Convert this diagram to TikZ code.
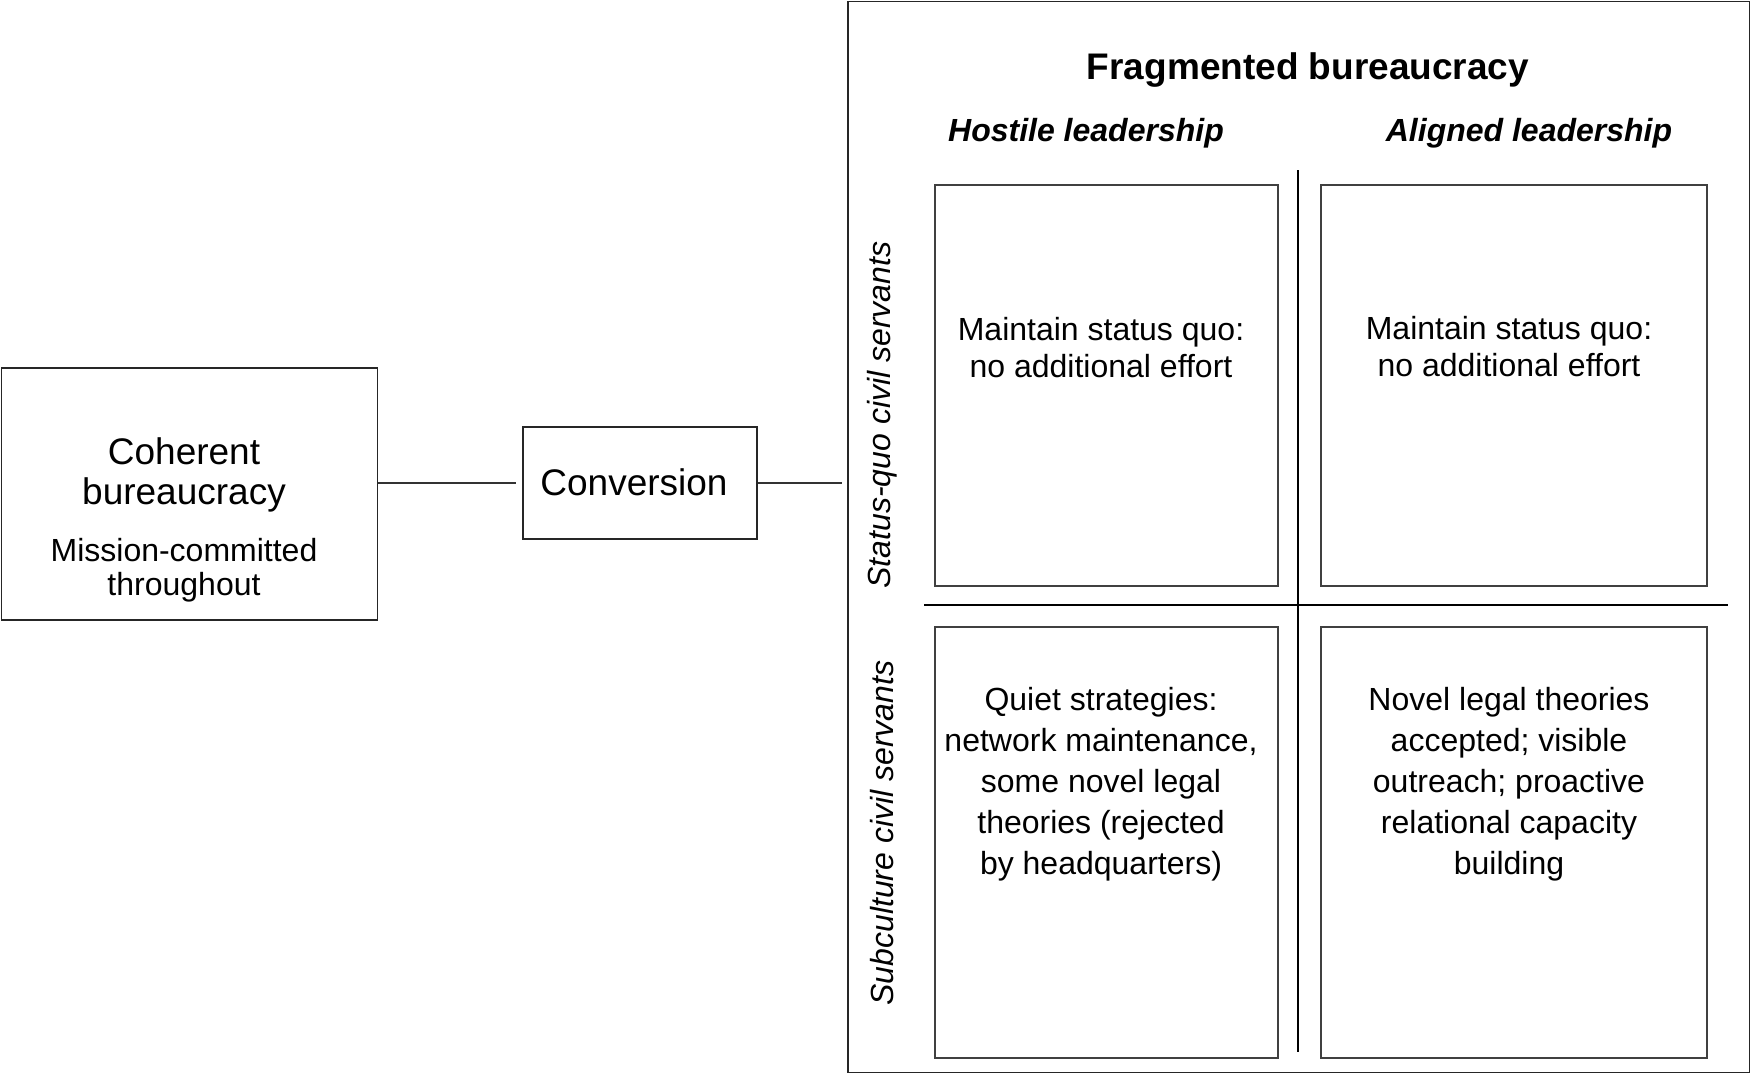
\documentclass[tikz,border=0pt]{standalone}
\usepackage{fontspec}
\setmainfont{Liberation Sans}
\begin{document}
\begin{tikzpicture}[x=1pt,y=-1pt,
  box/.style={draw=black!85, line width=1.6pt, inner sep=0pt, anchor=north west},
  cellbox/.style={draw=black!75, line width=1.8pt, inner sep=0pt, anchor=north west},
  link/.style={draw=black!80, line width=1.4pt},
  divider/.style={draw=black, line width=1.5pt},
  bigtext/.style={font=\fontsize{37}{40}\selectfont, align=center, inner sep=0pt},
  smalltext/.style={font=\fontsize{32}{34}\selectfont, align=center, inner sep=0pt},
  celltop/.style={font=\fontsize{32}{37}\selectfont, align=center, inner sep=0pt},
  cellbot/.style={font=\fontsize{32}{41}\selectfont, align=center, inner sep=0pt},
  head/.style={font=\fontsize{32}{34}\selectfont\bfseries\itshape, anchor=base, inner sep=0pt},
  rowlab/.style={font=\fontsize{32}{34}\selectfont\itshape, rotate=90, inner sep=0pt}
]
\fill[white] (0,0) rectangle (1750,1073);
\useasboundingbox (0,0) rectangle (1750,1073);

% left boxes
\node[box, minimum width=376pt, minimum height=252pt] (left) at (0.8,367) {};
\node[box, minimum width=234pt, minimum height=112pt] (conv) at (522,426) {};
\node[box, minimum width=902pt, minimum height=1071.2pt] (big) at (847,0.8) {};

\node[bigtext] (cohT) at (184,474.5) {Coherent\\bureaucracy};
\node[smalltext] (cohS) at (184,570) {Mission-committed\\throughout};
\node[bigtext] (convT) at (634,482) {Conversion};

% connectors
\coordinate (convin) at ([xshift=-6pt]conv.west);
\coordinate (bigin) at ([xshift=-5pt]big.west);
\draw[link] (left.east |- conv.west) -- (convin);
\draw[link] (conv.east) -- (bigin |- conv.east);

% headings
\node[font=\fontsize{37}{40}\selectfont\bfseries, anchor=base, inner sep=0pt] (title) at (1308,80) {Fragmented bureaucracy};
\node[head] (hostile) at (1086,141) {Hostile leadership};
\node[head] (aligned) at (1529,141) {Aligned leadership};
\node[rowlab] (rowA) at (882,415) {Status-quo civil servants};
\node[rowlab] (rowB) at (882,833) {Subculture civil servants};

% dividers
\coordinate (vt) at (1298,170);
\coordinate (vb) at (1298,1052);
\coordinate (hl) at (924,605);
\coordinate (hr) at (1728,605);
\draw[divider] (vt) -- (vb);
\draw[divider] (hl) -- (hr);

% cells
\node[cellbox, minimum width=343pt, minimum height=401pt] (c11) at (934,184) {};
\node[cellbox, minimum width=386pt, minimum height=401pt] (c12) at (1320,184) {};
\node[cellbox, minimum width=343pt, minimum height=431pt] (c21) at (934,626) {};
\node[cellbox, minimum width=386pt, minimum height=431pt] (c22) at (1320,626) {};

\node[celltop] (t11) at (1101,348) {Maintain status quo:\\no additional effort};
\node[celltop] (t12) at (1509,347) {Maintain status quo:\\no additional effort};
\node[cellbot] (t21) at (1101,784) {Quiet strategies:\\network maintenance,\\some novel legal\\theories (rejected\\by headquarters)};
\node[cellbot] (t22) at (1509,784) {Novel legal theories\\accepted; visible\\outreach; proactive\\relational capacity\\building};
\end{tikzpicture}
\end{document}
